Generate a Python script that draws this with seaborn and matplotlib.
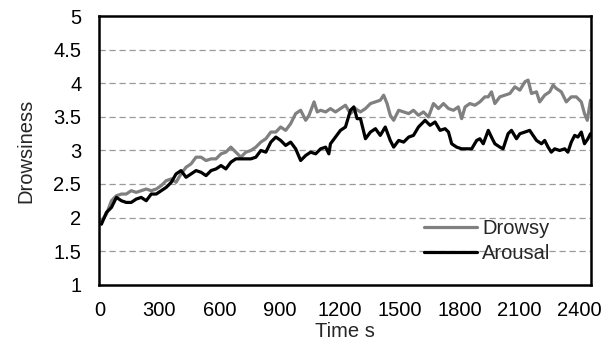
import matplotlib
matplotlib.use("Agg")
import matplotlib.pyplot as plt
import seaborn as sns
import pandas as pd

drowsy_t = [10, 35, 60, 85, 110, 134, 159, 184, 209, 234, 259, 284, 309, 334,
            359, 383, 408, 433, 458, 483, 508, 533, 558, 583, 608, 632, 657, 682,
            707, 732, 757, 782, 807, 832, 857, 882, 906, 931, 956, 981, 1006, 1031,
            1048, 1073, 1089, 1106, 1131, 1155, 1180, 1205, 1230, 1255, 1280, 1305, 1330, 1355, 1380,
            1404, 1421, 1438, 1454, 1471, 1496, 1521, 1546, 1570, 1595, 1620, 1645, 1670, 1695, 1720,
            1745, 1770, 1794, 1811, 1828, 1852, 1877, 1902, 1927, 1944, 1960, 1977, 2002, 2027, 2052, 2077,
            2102, 2127, 2143, 2160, 2185, 2201, 2226, 2251, 2268, 2284, 2309, 2334, 2359, 2384, 2409,
            2425, 2439, 2455]
drowsy_v = [1.95, 2.05, 2.25, 2.325, 2.35, 2.35, 2.40, 2.375, 2.40, 2.425, 2.40, 2.425, 2.475, 2.55,
            2.575, 2.525, 2.65, 2.75, 2.80, 2.90, 2.90, 2.85, 2.875, 2.875, 2.95, 2.975, 3.05, 2.975,
            2.90, 2.975, 3.00, 3.05, 3.125, 3.175, 3.275, 3.275, 3.35, 3.30, 3.40, 3.55, 3.60, 3.45,
            3.525, 3.725, 3.575, 3.60, 3.575, 3.625, 3.575, 3.625, 3.675, 3.55, 3.625, 3.575, 3.625, 3.70, 3.725,
            3.75, 3.825, 3.70, 3.525, 3.45, 3.60, 3.575, 3.55, 3.60, 3.525, 3.575, 3.50, 3.70, 3.625, 3.70,
            3.625, 3.60, 3.65, 3.475, 3.65, 3.70, 3.675, 3.725, 3.80, 3.80, 3.875, 3.70, 3.80, 3.825, 3.85, 3.95,
            3.90, 4.025, 4.05, 3.85, 3.875, 3.725, 3.825, 3.875, 3.975, 3.925, 3.875, 3.725, 3.80, 3.80, 3.725,
            3.55, 3.45, 3.75]

arousal_t = [10, 35, 60, 85, 110, 134, 159, 184, 209, 234, 259, 284, 309, 334,
             359, 383, 408, 433, 458, 483, 508, 533, 558, 583, 608, 632, 657, 682,
             707, 732, 757, 782, 807, 832, 857, 882, 906, 931, 956, 981, 1006, 1031,
             1056, 1081, 1106, 1131, 1147, 1155, 1180, 1205, 1230, 1255, 1272, 1288, 1305, 1330, 1355, 1380,
             1404, 1429, 1454, 1471, 1496, 1521, 1546, 1570, 1595, 1628, 1653, 1678, 1703, 1728,
             1745, 1761, 1786, 1811, 1836, 1861, 1886, 1902, 1919, 1944, 1960, 1977, 2002, 2018, 2043, 2060, 2085,
             2102, 2127, 2151, 2168, 2185, 2210, 2226, 2243, 2259, 2276, 2301, 2326, 2342, 2359, 2376, 2392,
             2409, 2425, 2442, 2455]
arousal_v = [1.90, 2.075, 2.15, 2.30, 2.25, 2.225, 2.225, 2.275, 2.30, 2.25, 2.35, 2.35, 2.40, 2.45,
             2.525, 2.65, 2.70, 2.60, 2.65, 2.70, 2.675, 2.625, 2.70, 2.725, 2.775, 2.725, 2.825, 2.875,
             2.875, 2.875, 2.875, 2.90, 3.00, 2.975, 3.125, 3.20, 3.15, 3.075, 3.125, 3.025, 2.85, 2.925,
             2.975, 2.95, 3.025, 3.05, 2.95, 3.10, 3.20, 3.30, 3.35, 3.60, 3.65, 3.475, 3.475, 3.175, 3.275, 3.325,
             3.225, 3.35, 3.15, 3.05, 3.15, 3.125, 3.20, 3.225, 3.35, 3.45, 3.375, 3.425, 3.30, 3.325,
             3.275, 3.10, 3.05, 3.025, 3.025, 3.025, 3.15, 3.175, 3.10, 3.30, 3.20, 3.10, 3.05, 3.025, 3.25, 3.30, 3.175,
             3.25, 3.275, 3.30, 3.225, 3.15, 3.10, 3.15, 3.05, 2.975, 3.025, 3.00, 3.025, 2.975, 3.125, 3.225, 3.20,
             3.275, 3.10, 3.175, 3.25]

series_names = ["Drowsy", "Arousal"]
x_ticks = [0, 300, 600, 900, 1200, 1500, 1800, 2100, 2400]
y_ticks = [1, 1.5, 2, 2.5, 3, 3.5, 4, 4.5, 5]
y_tick_labels = ["1", "1.5", "2", "2.5", "3", "3.5", "4", "4.5", "5"]

df = pd.concat([
    pd.DataFrame({"Time": drowsy_t, "Value": drowsy_v, "Series": series_names[0]}),
    pd.DataFrame({"Time": arousal_t, "Value": arousal_v, "Series": series_names[1]}),
], ignore_index=True)

sns.set_style("white")
plt.rcParams["font.family"] = ["Liberation Sans", "DejaVu Sans"]
FS = 14.5

fig = plt.figure(figsize=(6.1, 3.42), dpi=100)
ax = fig.add_axes([0.163, 0.168, 0.806, 0.784])

sns.lineplot(data=df, x="Time", y="Value", hue="Series",
             palette={"Drowsy": "#808080", "Arousal": "#000000"},
             linewidth=2.3, ax=ax, sort=False, estimator=None)

ax.set_xlim(0, 2458)
ax.set_ylim(1, 5)
ax.set_xticks(x_ticks)
ax.set_xticklabels([str(t) for t in x_ticks])
ax.set_yticks(y_ticks)
ax.set_yticklabels(y_tick_labels)

for yv in y_ticks[1:-1]:
    ax.axhline(yv, color="#999999", linestyle=(0, (5, 3)), linewidth=0.9, zorder=0)

for s in ax.spines.values():
    s.set_color("black")
    s.set_linewidth(1.8)

ax.tick_params(axis="x", direction="inout", length=8, width=1.8, labelsize=FS, pad=8, colors="black")
ax.tick_params(axis="y", length=0, labelsize=FS, pad=13, colors="black")

ax.set_xlabel("Time s", fontsize=FS, labelpad=1)
ax.set_ylabel("Drowsiness", fontsize=FS)
ax.yaxis.set_label_coords(-0.13, 0.5)

leg = ax.legend(loc="upper left", frameon=False, fontsize=FS,
                handlelength=2.65, handletextpad=0.25, borderaxespad=0, borderpad=0,
                labelspacing=0.3, bbox_to_anchor=(0.660, 0.243))
for line in leg.get_lines():
    line.set_linewidth(2.3)

fig.savefig("out.png", dpi=100)
